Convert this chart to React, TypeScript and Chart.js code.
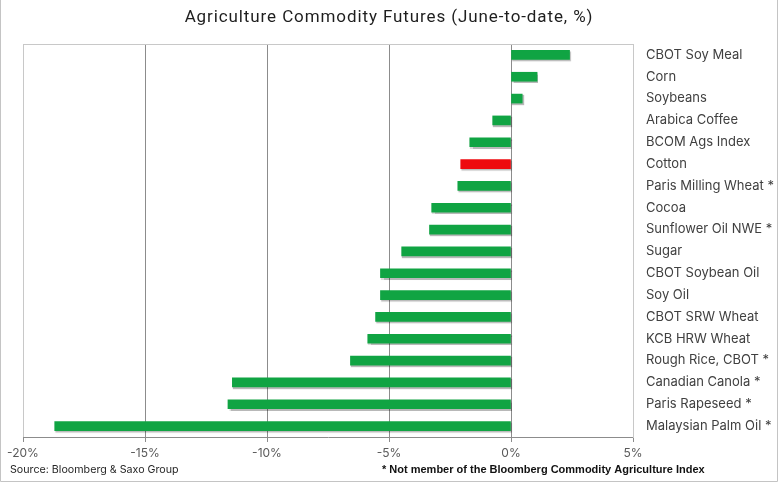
import React, { useEffect, useRef } from "react";
import { Chart, registerables } from "chart.js";

Chart.register(...registerables);

const categories = [
  "CBOT Soy Meal",
  "Corn",
  "Soybeans",
  "Arabica Coffee",
  "BCOM Ags Index",
  "Cotton",
  "Paris Milling Wheat *",
  "Cocoa",
  "Sunflower Oil NWE *",
  "Sugar",
  "CBOT Soybean Oil",
  "Soy Oil",
  "CBOT SRW Wheat",
  "KCB HRW Wheat",
  "Rough Rice, CBOT *",
  "Canadian Canola *",
  "Paris Rapeseed *",
  "Malaysian Palm Oil *",
];

const values = [
  2.4, 1.07, 0.46, -0.75, -1.69, -2.06, -2.18, -3.25, -3.34, -4.48, -5.35, -5.35,
  -5.55, -5.87, -6.58, -11.42, -11.6, -18.7,
];

const highlighted = ["Cotton"];

const xTicks = [-20, -15, -10, -5, 0, 5];

const titleText = "Agriculture Commodity Futures (June-to-date, %)";
const sourceText = "Source: Bloomberg & Saxo Group";
const noteText = "* Not member of the Bloomberg Commodity Agriculture Index";

const GREEN = "#10a443";
const RED = "#ee0a0f";

export default function App() {
  const ref = useRef<HTMLCanvasElement | null>(null);

  useEffect(() => {
    document.body.style.margin = "0";
    const canvas = ref.current;
    if (!canvas) return;

    const shadowPlugin = {
      id: "barShadow",
      beforeDatasetsDraw(chart: any) {
        const ctx = chart.ctx;
        ctx.save();
        ctx.shadowColor = "rgba(0,0,0,0.28)";
        ctx.shadowOffsetX = 1;
        ctx.shadowOffsetY = 1.5;
        ctx.shadowBlur = 1;
      },
      afterDatasetsDraw(chart: any) {
        chart.ctx.restore();
      },
    };

    const decorPlugin = {
      id: "decor",
      beforeDraw(chart: any) {
        const ctx = chart.ctx;
        ctx.save();
        ctx.fillStyle = "#ffffff";
        ctx.fillRect(0, 0, chart.width, chart.height);
        ctx.restore();
      },
      afterDraw(chart: any) {
        const ctx = chart.ctx;
        const a = chart.chartArea;
        ctx.save();
        // top border of plot area
        ctx.strokeStyle = "#c8c8c8";
        ctx.lineWidth = 1;
        ctx.beginPath();
        ctx.moveTo(a.left, Math.round(a.top) + 0.5);
        ctx.lineTo(a.right, Math.round(a.top) + 0.5);
        ctx.stroke();
        // outer frame
        ctx.strokeStyle = "#c4c4c4";
        ctx.beginPath();
        ctx.moveTo(0.5, 0);
        ctx.lineTo(0.5, chart.height - 0.5);
        ctx.lineTo(chart.width - 0.5, chart.height - 0.5);
        ctx.lineTo(chart.width - 0.5, 0);
        ctx.stroke();
        // title
        ctx.fillStyle = "#1e1e1e";
        ctx.font = "17px Roboto";
        (ctx as any).letterSpacing = "0.9px";
        ctx.textAlign = "center";
        ctx.textBaseline = "middle";
        ctx.fillText(titleText, chart.width / 2, 18);
        (ctx as any).letterSpacing = "0px";
        // footers
        ctx.textAlign = "left";
        ctx.fillStyle = "#262626";
        ctx.font = "10.7px Inter";
        ctx.fillText(sourceText, 10, 470);
        ctx.fillStyle = "#111111";
        ctx.font = "bold 11px 'Liberation Sans'";
        ctx.fillText(noteText, 382, 470);
        ctx.restore();
      },
    };

    const chart = new Chart(canvas, {
      type: "bar",
      data: {
        labels: categories,
        datasets: [
          {
            data: values,
            backgroundColor: categories.map((c) => (highlighted.includes(c) ? RED : GREEN)),
            borderWidth: 0,
            barThickness: 9,
          },
        ],
      },
      options: {
        indexAxis: "y",
        responsive: false,
        animation: false,
        maintainAspectRatio: false,
        layout: { padding: { top: 44, left: 23, right: 0, bottom: 0 } },
        plugins: {
          legend: { display: false },
          title: { display: false },
          tooltip: { enabled: false },
        },
        scales: {
          x: {
            min: -20,
            max: 5,
            afterBuildTicks(scale: any) {
              scale.ticks = xTicks.map((v) => ({ value: v }));
            },
            afterFit(scale: any) {
              scale.height = 45;
            },
            grid: {
              color: (ctx: any) =>
                ctx.tick && (ctx.tick.value === -20 || ctx.tick.value === 5) ? "#c8c8c8" : "#8c8c8c",
              tickLength: 5,
              drawTicks: true,
              tickColor: "#8c8c8c",
            },
            border: { display: true, color: "#8c8c8c" },
            ticks: {
              color: "#595959",
              font: { family: "Inter", size: 12 },
              padding: 4,
              callback: (v: any) => `${v}%`,
            },
          },
          y: {
            position: "right",
            afterFit(scale: any) {
              scale.width = 145;
            },
            grid: { display: false, drawTicks: false },
            border: { display: true, color: "#c8c8c8" },
            ticks: {
              color: "#404040",
              font: { family: "Inter", size: 13 },
              padding: 13,
              autoSkip: false,
            },
          },
        },
      },
      plugins: [decorPlugin, shadowPlugin],
    });

    return () => chart.destroy();
  }, []);

  return <canvas ref={ref} width={778} height={482} style={{ display: "block" }} />;
}
